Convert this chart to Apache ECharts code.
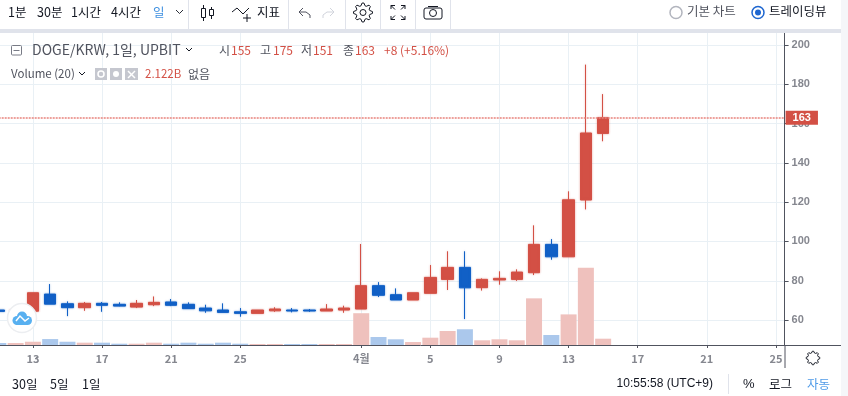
<!DOCTYPE html>
<html>
<head>
<meta charset="utf-8">
<style>
html, body { margin: 0; padding: 0; background: #fff; overflow: hidden; width: 848px; height: 396px; }
/* the first day is cut by the window edge, so the canvas starts left of it */
#chart { position: absolute; left: -17px; top: 0; width: 865px; height: 396px; }
</style>
<script src="https://cdn.jsdelivr.net/npm/echarts@6/dist/echarts.min.js"></script>
</head>
<body>
<div id="chart"></div>
<script>
// days on the time axis, 3/11 .. 4/25
const categories = ['3/11','3/12','3/13','3/14','3/15','3/16','3/17','3/18','3/19','3/20','3/21','3/22','3/23','3/24','3/25','3/26','3/27','3/28','3/29','3/30','3/31',
    '4/1','4/2','4/3','4/4','4/5','4/6','4/7','4/8','4/9','4/10','4/11','4/12','4/13','4/14','4/15','4/16','4/17','4/18','4/19','4/20','4/21','4/22','4/23','4/24','4/25'];
const opens  = [65.1,64.6,64.5,73.2,68.3,66.3,68.5,68,66.6,67.8,69.2,68,66.1,65.1,64.2,63.4,64.7,65.1,65.1,64.6,65.1,65.6,77.5,72.9,70.2,73.6,80.7,86.8,76.5,80.4,80.7,84.1,98.5,92.2,121.1,155];
const closes = [64.4,65,73.9,68.1,66.3,68.5,67.5,67.1,68.5,69,67.5,65.8,64.7,63.9,63.4,65.1,65.6,64.6,64.6,65.6,66.1,77.5,72.6,70.2,73.9,81.7,86.8,76.4,80.7,81.2,84.4,98.5,92.2,121.2,155.2,163];
const lows   = [64.4,64.6,64.5,68.1,62,64.7,64.2,67,66.1,67.1,67.1,65.8,63.7,63.9,61.7,63.4,64.2,63.9,64.2,64.6,63.7,65.6,71.7,70.2,70.2,73.6,75.3,60.5,75,78,79.9,82.9,90.7,92.2,116.3,151];
const highs  = [65.1,65,73.9,78.3,69.5,69.2,69.2,69,70.2,72,70.7,69,67.8,68.5,66.1,65.1,66.5,66.1,65.6,68.1,67.3,98.7,79.3,76.1,73.9,88,95,95,81.2,84.8,85.8,108.2,101.2,125.5,190,175];
// volume in billions
const volumes = [0.67,0.67,1.1,2,1.1,0.78,0.78,0.44,0.44,0.78,0.44,0.78,0.44,0.78,0.44,0.34,0.34,0.34,0.34,0.34,0.34,10.7,2.7,1.92,1,2.46,4.72,5.3,1.58,1.92,1.58,15.7,3.37,10.3,26,2.122];
const lastPrice = 163;
const priceTicks = [60,80,100,120,140,160,180,200];
const tickDays = ['3/13','3/17','3/21','3/25','4/1','4/5','4/9','4/13','4/17','4/21','4/25'];
const tickLabels = ['13','17','21','25','4월','5','9','13','17','21','25'];

const RED = '#d35045';
const BLUE = '#1160c6';
const GRID = '#e9f0f5';
const AXIS = '#50535e';
const FONT = '"Liberation Sans","Noto Sans CJK KR",sans-serif';
const KR = '"Noto Sans CJK KR",sans-serif';
const SHIFT = 17;

const isTick = function(i) {
    return tickDays.indexOf(categories[i]) >= 0;
};

const candleData = categories.map(function(c, i) {
    if (i >= opens.length) return '-';
    const up = closes[i] >= opens[i];
    return {
        value: [opens[i], closes[i], lows[i], highs[i]],
        itemStyle: { shadowBlur: 2, shadowColor: up ? 'rgba(211,80,69,0.45)' : 'rgba(17,96,198,0.45)' }
    };
});
const volumeData = categories.map(function(c, i) {
    if (i >= volumes.length) return '-';
    return { value: volumes[i], itemStyle: { color: closes[i] >= opens[i] ? '#efc1bd' : '#abc8ec' } };
});

// toolbar and status bar pieces
function txt(x, y, text, size, fill, align, font) {
    return { type: 'text', z: 100, style: { x: x, y: y, text: text, fill: fill || '#131722', textAlign: align || 'left', textVerticalAlign: 'middle', font: size + 'px ' + (font || KR) } };
}
function line(x1, y1, x2, y2, stroke, w) {
    return { type: 'line', z: 100, shape: { x1: x1, y1: y1, x2: x2, y2: y2 }, style: { stroke: stroke, lineWidth: w || 1 } };
}
function poly(points, stroke, w) {
    return { type: 'polyline', z: 100, shape: { points: points }, style: { stroke: stroke, lineWidth: w || 1, fill: null } };
}
function rect(x, y, w, h, fill, stroke, r) {
    return { type: 'rect', z: 100, shape: { x: x, y: y, width: w, height: h, r: r || 0 }, style: { fill: fill, stroke: stroke || null } };
}
function circle(cx, cy, r, fill, stroke, w) {
    return { type: 'circle', z: 100, shape: { cx: cx, cy: cy, r: r }, style: { fill: fill, stroke: stroke || null, lineWidth: w || 1 } };
}
function gear(cx, cy, r1, r2, teeth) {
    const pts = [];
    const n = teeth * 4;
    for (let i = 0; i <= n; i++) {
        const a = (i - 0.5) / n * Math.PI * 2;
        const r = (i % 4 < 2) ? r2 : r1;
        pts.push([cx + Math.cos(a) * r, cy + Math.sin(a) * r]);
    }
    return pts;
}

const graphics = [
    // frame
    rect(0, 29, 848, 4, '#e0e3eb'),
    rect(841, 0, 7, 396, '#f5f6f9'),
    line(0, 345.5, 841, 345.5, AXIS),
    line(785, 345, 785, 368, AXIS),
    // toolbar
    txt(8, 12, '1분', 12.5), txt(37, 12, '30분', 12.5), txt(71, 12, '1시간', 12.5), txt(111, 12, '4시간', 12.5),
    txt(153, 12, '일', 12.5, '#3d8fe0'),
    poly([[176, 10], [179.5, 13.5], [183, 10]], '#2a2e39'),
    line(188.5, 0, 188.5, 29, '#e0e3eb'),
    line(288.5, 0, 288.5, 29, '#e0e3eb'),
    line(345.5, 0, 345.5, 29, '#e0e3eb'),
    line(380.5, 0, 380.5, 29, '#e0e3eb'),
    line(415.5, 0, 415.5, 29, '#e0e3eb'),
    line(450.5, 0, 450.5, 29, '#e0e3eb'),
    // candle icon
    line(203.5, 5, 203.5, 21, '#131722'), rect(201.5, 8.5, 4, 9, '#fff', '#131722'),
    line(211.5, 7, 211.5, 19, '#131722'), rect(209.5, 9.5, 4, 6, '#fff', '#131722'),
    // indicator icon
    poly([[232, 12], [237, 8], [243, 14], [249, 8]], '#131722'),
    line(247, 14, 247, 22, '#131722'), line(243, 18, 251, 18, '#131722'),
    txt(257, 12, '지표', 12.5),
    // undo, redo
    poly([[303, 8], [299, 12], [303, 16]], '#50535e'), poly([[299, 12], [306, 12], [310, 15], [310, 18]], '#50535e'),
    poly([[330, 8], [334, 12], [330, 16]], '#d1d4dc'), poly([[334, 12], [327, 12], [323, 15], [323, 18]], '#d1d4dc'),
    // settings
    poly(gear(363, 12.5, 7, 9.5, 8), '#131722'), circle(363, 12.5, 3, null, '#131722'),
    // fullscreen
    poly([[391, 9], [391, 5.5], [395, 5.5]], '#131722'), line(391, 5.5, 395, 9.5, '#131722'),
    poly([[401, 5.5], [405, 5.5], [405, 9]], '#131722'), line(405, 5.5, 401, 9.5, '#131722'),
    poly([[391, 16], [391, 19.5], [395, 19.5]], '#131722'), line(391, 19.5, 395, 15.5, '#131722'),
    poly([[401, 19.5], [405, 19.5], [405, 16]], '#131722'), line(405, 19.5, 401, 15.5, '#131722'),
    // camera
    rect(424, 8, 18, 11, null, '#131722', 2), circle(433, 13, 3.5, null, '#131722'), line(428, 6.5, 438, 6.5, '#131722'),
    // chart style radios
    circle(676, 12.5, 6, '#fff', '#b2b5be', 1.5), txt(687, 11, '기본 차트', 12.5, '#50535e'),
    circle(758, 12.5, 6, '#fff', '#1e66d0', 1.5), circle(758, 12.5, 3, '#1e66d0'), txt(769, 11, '트레이딩뷰', 12.5, '#131722'),
    // legend
    rect(11.5, 45.5, 10, 9.5, '#fff', '#787b86', 1), line(13.5, 50.5, 19.5, 50.5, '#787b86'),
    txt(32, 50, 'DOGE/KRW, 1일, UPBIT', 14, '#50535e'),
    poly([[186, 48], [189, 51], [192, 48]], '#131722'),
    txt(219, 50, '시', 12, '#50535e'), txt(231, 50, '155', 12, RED),
    txt(260, 50, '고', 12, '#50535e'), txt(273, 50, '175', 12, RED),
    txt(301, 50, '저', 12, '#50535e'), txt(313, 50, '151', 12, RED),
    txt(343, 50, '종', 12, '#50535e'), txt(355, 50, '163', 12, RED),
    txt(384, 50, '+8 (+5.16%)', 12, RED),
    txt(11, 74, 'Volume (20)', 11.5, '#50535e'),
    poly([[79, 72], [82, 75], [85, 72]], '#131722'),
    rect(95, 68, 12, 12, '#c5c7cf'), circle(101, 74, 3, null, '#fff', 1.5),
    rect(110, 68, 12, 12, '#c5c7cf'), circle(116, 74, 3, '#fff'),
    rect(125, 68, 13, 12, '#c5c7cf'), line(128, 71, 135, 78, '#fff', 1.5), line(135, 71, 128, 78, '#fff', 1.5),
    txt(145, 74, '2.122B', 11.5, RED), txt(188, 74, '없음', 12, '#50535e'),
    // logo
    circle(22, 318, 14.5, '#fff', '#eceef1', 1.5),
    circle(17, 320.5, 4.5, '#58b0f0'), circle(22, 316.5, 5, '#58b0f0'), circle(27.5, 320.5, 4.5, '#58b0f0'),
    rect(16, 319, 12, 6, '#58b0f0'),
    poly([[16, 321], [20, 316], [25, 321], [29, 318]], '#fff', 1.5),
    // price scale settings
    poly(gear(813, 358, 5.2, 6.8, 8), '#131722'),
    // bottom bar
    txt(12, 384, '30일', 12.5), txt(50, 384, '5일', 12.5), txt(82, 384, '1일', 12.5),
    txt(713, 384, '10:55:58 (UTC+9)', 12, '#131722', 'right', FONT),
    line(728.5, 374, 728.5, 394, '#e0e3eb'),
    txt(743, 384, '%', 13, '#131722', 'left', FONT),
    txt(769, 384, '로그', 12.5), txt(807, 384, '자동', 12.5, '#4f9be8')
];

const priceLine = { color: '#e8837c', type: [2, 1], width: 1.5 };

const chart = echarts.init(document.getElementById('chart'), null, { renderer: 'canvas' });
const option = {
    animation: false,
    backgroundColor: '#fff',
    grid: [
        { left: 6.7, right: 63.4, top: 33, bottom: 51 },
        { left: 6.7, right: 63.4, top: 33, bottom: 51 }
    ],
    xAxis: [
        {
            type: 'category',
            gridIndex: 0,
            data: categories,
            boundaryGap: true,
            axisLine: { show: false },
            axisTick: { show: true, alignWithLabel: true, interval: isTick, length: 3, lineStyle: { color: AXIS } },
            splitLine: { show: true, alignWithLabel: true, interval: isTick, lineStyle: { color: GRID, width: 1 } },
            axisLabel: {
                interval: isTick,
                margin: 8,
                fontSize: 11,
                fontWeight: 'bold',
                color: '#85878f',
                fontFamily: KR,
                formatter: function(v) { return tickLabels[tickDays.indexOf(v)]; }
            }
        },
        { type: 'category', gridIndex: 1, data: categories, show: false }
    ],
    yAxis: [
        {
            type: 'value',
            gridIndex: 0,
            position: 'right',
            min: 47.3,
            max: 206.1,
            axisLine: { show: true, lineStyle: { color: AXIS } },
            axisTick: { show: true, length: 4, customValues: priceTicks, lineStyle: { color: AXIS } },
            splitLine: { show: true, customValues: priceTicks, lineStyle: { color: GRID, width: 1 } },
            axisLabel: { customValues: priceTicks, margin: 7, fontSize: 11, fontWeight: 'bold', color: '#85878f', fontFamily: FONT }
        },
        { type: 'value', gridIndex: 1, min: 0, max: 105, show: false }
    ],
    series: [
        {
            name: 'Volume',
            type: 'bar',
            xAxisIndex: 1,
            yAxisIndex: 1,
            barWidth: 16,
            z: 2,
            data: volumeData
        },
        {
            name: 'DOGE/KRW',
            type: 'candlestick',
            xAxisIndex: 0,
            yAxisIndex: 0,
            barWidth: 12,
            z: 3,
            itemStyle: { color: RED, color0: BLUE, borderColor: RED, borderColor0: BLUE, borderWidth: 1 },
            data: candleData
        },
        {
            // last price line, on its own series so it keeps its own colour
            name: 'last',
            type: 'line',
            xAxisIndex: 0,
            yAxisIndex: 0,
            z: 4,
            data: [],
            itemStyle: { color: '#e8837c' },
            lineStyle: { color: '#e8837c' },
            markLine: {
                silent: true,
                symbol: 'none',
                animation: false,
                lineStyle: priceLine,
                label: {
                    position: 'end',
                    distance: 1,
                    formatter: '' + lastPrice,
                    color: '#fff',
                    fontSize: 11,
                    fontWeight: 'bold',
                    fontFamily: FONT,
                    backgroundColor: RED,
                    padding: [2, 7, 1, 7]
                },
                data: [{ yAxis: lastPrice, lineStyle: priceLine }]
            }
        }
    ],
    graphic: [{ type: 'group', x: SHIFT, y: 0, z: 100, children: graphics }]
};
chart.setOption(option);
</script>
</body>
</html>
